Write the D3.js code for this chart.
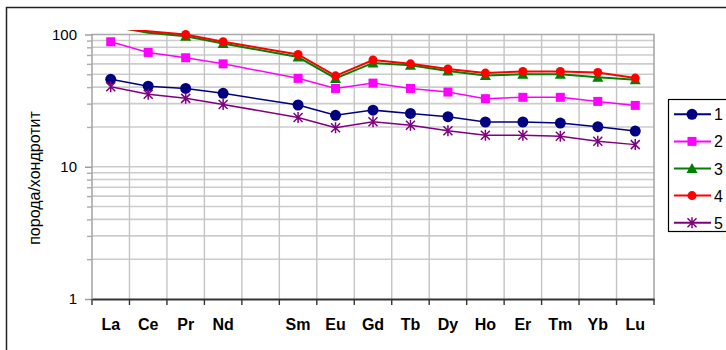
<!DOCTYPE html>
<html>
<head>
<meta charset="utf-8">
<script src="https://cdn.jsdelivr.net/npm/d3@7"></script>
<style>
  body { margin: 0; background: #fff; }
  svg { display: block; font-family: Arial, "Liberation Sans", sans-serif; }
</style>
</head>
<body>
<script>
// REE pattern, normalised to chondrite
var categories = ["La", "Ce", "Pr", "Nd", "", "Sm", "Eu", "Gd", "Tb", "Dy", "Ho", "Er", "Tm", "Yb", "Lu"];
var seriesNames = ["1", "2", "3", "4", "5"];
var s1 = [45.8, 40.7, 39.1, 35.9, null, 29.3, 24.5, 26.8, 25.3, 23.9, 21.8, 21.8, 21.4, 20.1, 18.6];
var s2 = [88.1, 73.2, 66.7, 60.0, null, 46.6, 39.1, 42.9, 39.1, 36.7, 32.7, 33.5, 33.5, 31.2, 29.1];
var s3 = [116, 103, 97, 85.5, null, 67.5, 46.5, 61, 58.5, 53, 49, 50, 50, 47.5, 45.5];
var s4 = [113, 106, 100, 88.1, null, 70.7, 48.7, 64.1, 60.0, 54.8, 51.1, 52.6, 52.6, 51.7, 46.8];
var s5 = [40.2, 35.3, 32.9, 29.6, null, 23.6, 19.7, 21.9, 20.6, 18.7, 17.3, 17.3, 17.0, 15.6, 14.7];
var yTicks = [1, 10, 100];
var yTitle = "порода/хондротит";

var W = 726, H = 350;
var pL = 92, pT = 34.5, pR = 654, pB = 299;

var styles = [
  {color: "#000080", marker: "circle", size: 5.5, lw: 1.5},
  {color: "#ff00ff", marker: "square", size: 9, lw: 1.5},
  {color: "#008000", marker: "triangle", size: 10, lw: 2},
  {color: "#ff0000", marker: "circle", size: 4.5, lw: 2},
  {color: "#800080", marker: "star", size: 9, lw: 1.5}
];
var allSeries = [s1, s2, s3, s4, s5];

var svg = d3.select("body").append("svg")
    .attr("width", W)
    .attr("height", H);

// outer chart frame (runs past the right and bottom edge)
svg.append("rect")
    .attr("x", 6.5).attr("y", 7.5)
    .attr("width", 740).attr("height", 360)
    .attr("fill", "none")
    .attr("stroke", "#222")
    .attr("stroke-width", 1.5);

var x = d3.scaleBand()
    .domain(d3.range(categories.length))
    .range([pL, pR])
    .padding(0);

var y = d3.scaleLog()
    .domain([1, 100])
    .range([pB, pT]);

// minor values for grid
var minor = [];
[1, 10].forEach(function (d) {
  for (var k = 2; k <= 9; k++) minor.push(d * k);
});

var grid = svg.append("g");
grid.selectAll("line.h")
    .data(minor.concat([10]))
    .enter().append("line")
    .attr("x1", pL).attr("x2", pR)
    .attr("y1", function (d) { return y(d); })
    .attr("y2", function (d) { return y(d); })
    .attr("stroke", "#cccccc")
    .attr("stroke-width", 1.6);

grid.selectAll("line.v")
    .data(d3.range(1, categories.length))
    .enter().append("line")
    .attr("x1", function (i) { return x(i); })
    .attr("x2", function (i) { return x(i); })
    .attr("y1", pT).attr("y2", pB)
    .attr("stroke", "#c4c4c4")
    .attr("stroke-width", 1.4);

// plot border: top, right, left
svg.append("path")
    .attr("d", "M" + pL + "," + pB + "V" + pT + "H" + pR + "V" + pB)
    .attr("fill", "none")
    .attr("stroke", "#a8a8a8")
    .attr("stroke-width", 1.6);

// y axis
var yAxis = d3.axisLeft(y)
    .tickValues(yTicks)
    .tickFormat(d3.format("d"))
    .tickSize(7)
    .tickPadding(8);
var ya = svg.append("g")
    .attr("transform", "translate(" + pL + ",0)")
    .call(yAxis);
ya.select(".domain").remove();
ya.selectAll(".tick line").attr("stroke", "#999").attr("stroke-width", 1.4);
ya.selectAll(".tick text")
    .attr("font-size", 15)
    .attr("font-family", "Arial, 'Liberation Sans', sans-serif")
    .attr("fill", "#000");

var ym = svg.append("g")
    .attr("transform", "translate(" + pL + ",0)")
    .call(d3.axisLeft(y).tickValues(minor).tickFormat("").tickSize(5));
ym.select(".domain").remove();
ym.selectAll(".tick line").attr("stroke", "#aaa").attr("stroke-width", 1.4);

// x axis
var xa = svg.append("g")
    .attr("transform", "translate(0," + pB + ")")
    .call(d3.axisBottom(x).tickFormat(function (i) { return categories[i]; }).tickSize(0).tickPadding(20));
xa.select(".domain").attr("stroke", "#333").attr("stroke-width", 2);
xa.selectAll(".tick text")
    .attr("font-size", 16)
    .attr("font-weight", "bold")
    .attr("font-family", "Arial, 'Liberation Sans', sans-serif")
    .attr("fill", "#000");

svg.append("g").selectAll("line")
    .data(d3.range(0, categories.length + 1))
    .enter().append("line")
    .attr("x1", function (i) { return i < categories.length ? x(i) : pR; })
    .attr("x2", function (i) { return i < categories.length ? x(i) : pR; })
    .attr("y1", pB).attr("y2", pB + 6)
    .attr("stroke", "#333")
    .attr("stroke-width", 1.4);

// y title
svg.append("text")
    .attr("transform", "translate(40,178) rotate(-90)")
    .attr("text-anchor", "middle")
    .attr("font-size", 16)
    .text(yTitle);

// series
svg.append("clipPath").attr("id", "clip")
  .append("rect")
    .attr("x", pL).attr("y", pT - 4.5)
    .attr("width", pR - pL).attr("height", pB - pT + 4.5);

function drawMarker(g, st, cx, cy) {
  var s = st.size;
  if (st.marker === "circle") {
    g.append("circle").attr("cx", cx).attr("cy", cy).attr("r", s).attr("fill", st.color);
  } else if (st.marker === "square") {
    g.append("rect").attr("x", cx - s / 2).attr("y", cy - s / 2)
        .attr("width", s).attr("height", s).attr("fill", st.color);
  } else if (st.marker === "triangle") {
    g.append("path")
        .attr("d", "M" + cx + "," + (cy - s * 0.55) + "L" + (cx + s * 0.55) + "," + (cy + s * 0.45) +
             "L" + (cx - s * 0.55) + "," + (cy + s * 0.45) + "Z")
        .attr("fill", st.color);
  } else if (st.marker === "star") {
    var h = s / 2;
    g.append("path")
        .attr("d", "M" + (cx - h) + "," + (cy - h) + "L" + (cx + h) + "," + (cy + h) +
             "M" + (cx + h) + "," + (cy - h) + "L" + (cx - h) + "," + (cy + h) +
             "M" + cx + "," + (cy - h - 1) + "L" + cx + "," + (cy + h + 1))
        .attr("stroke", st.color).attr("stroke-width", 1.5).attr("fill", "none");
  }
}

var line = d3.line()
    .x(function (d) { return x(d.i) + x.bandwidth() / 2; })
    .y(function (d) { return y(d.v); });

allSeries.forEach(function (vals, k) {
  var st = styles[k];
  var pts = vals.map(function (v, i) { return {i: i, v: v}; })
      .filter(function (d) { return d.v != null; });
  var g = svg.append("g");
  g.append("path")
      .attr("d", line(pts))
      .attr("fill", "none")
      .attr("stroke", st.color)
      .attr("stroke-width", st.lw)
      .attr("clip-path", "url(#clip)");
  pts.filter(function (d) { return d.v <= 101; }).forEach(function (d) {
    drawMarker(g, st, x(d.i) + x.bandwidth() / 2, y(d.v));
  });
});

// legend
var lg = svg.append("g");
lg.append("rect")
    .attr("x", 668.5).attr("y", 99.5)
    .attr("width", 80).attr("height", 132)
    .attr("fill", "#fff")
    .attr("stroke", "#000")
    .attr("stroke-width", 1.2);
seriesNames.forEach(function (name, k) {
  var st = styles[k];
  var ly = 114.3 + k * 27.1;
  var g = lg.append("g");
  g.append("line")
      .attr("x1", 674).attr("x2", 711)
      .attr("y1", ly).attr("y2", ly)
      .attr("stroke", st.color)
      .attr("stroke-width", 2);
  drawMarker(g, st, 692, ly);
  g.append("text")
      .attr("x", 714).attr("y", ly + 6)
      .attr("font-size", 16)
      .text(name);
});
</script>
</body>
</html>
